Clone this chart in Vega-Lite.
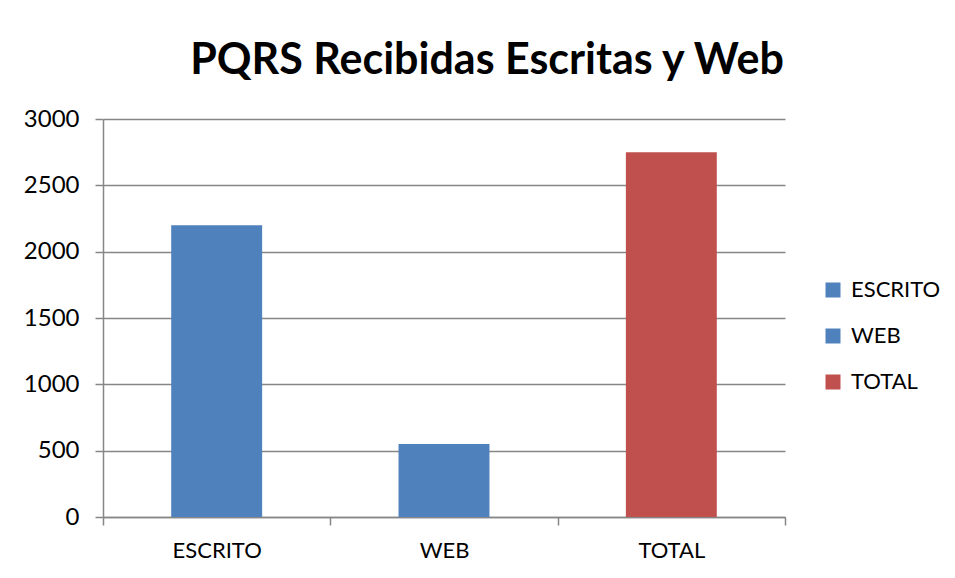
{
  "$schema": "https://vega.github.io/schema/vega-lite/v6.json",
  "autosize": {"type": "none"},
  "padding": {"left": 103, "top": 119, "right": 170, "bottom": 61},
  "width": 682,
  "height": 398,
  "background": "white",
  "title": {
    "text": "PQRS Recibidas Escritas y Web",
    "font": "Lato",
    "fontSize": 43,
    "fontWeight": "bold",
    "color": "#000000",
    "anchor": "middle",
    "dx": 43,
    "offset": 24
  },
  "data": {
    "values": [
      {"categoria": "ESCRITO", "valor": 2200},
      {"categoria": "WEB", "valor": 550},
      {"categoria": "TOTAL", "valor": 2750}
    ]
  },
  "mark": {"type": "bar", "width": {"band": 0.4}},
  "encoding": {
    "x": {
      "field": "categoria",
      "type": "nominal",
      "sort": ["ESCRITO", "WEB", "TOTAL"],
      "scale": {"paddingInner": 0, "paddingOuter": 0},
      "axis": {
        "title": null,
        "labelAngle": 0,
        "labelFont": "Lato",
        "labelFontSize": 22,
        "labelColor": "#000000",
        "labelPadding": 15,
        "tickBand": "extent",
        "tickSize": 8,
        "tickColor": "#868686",
        "tickWidth": 1.5,
        "domainColor": "#868686",
        "domainWidth": 1.5
      }
    },
    "y": {
      "field": "valor",
      "type": "quantitative",
      "scale": {"domain": [0, 3000]},
      "axis": {
        "title": null,
        "values": [0, 500, 1000, 1500, 2000, 2500, 3000],
        "format": "d",
        "labelFont": "Lato",
        "labelFontSize": 24,
        "labelColor": "#000000",
        "labelPadding": 16,
        "tickSize": 8,
        "tickColor": "#868686",
        "tickWidth": 1.5,
        "domainColor": "#868686",
        "domainWidth": 1.5,
        "grid": true,
        "gridColor": "#868686",
        "gridWidth": 1.5
      }
    },
    "color": {
      "field": "categoria",
      "type": "nominal",
      "scale": {
        "domain": ["ESCRITO", "WEB", "TOTAL"],
        "range": ["#4F81BD", "#4F81BD", "#C0504D"]
      },
      "legend": {
        "title": null,
        "orient": "none",
        "legendX": 719,
        "legendY": 160,
        "symbolType": "square",
        "symbolSize": 225,
        "symbolStrokeWidth": 0,
        "labelFont": "Lato",
        "labelFontSize": 22,
        "labelColor": "#000000",
        "labelOffset": 7,
        "rowPadding": 24
      }
    }
  },
  "config": {"view": {"stroke": null}}
}
